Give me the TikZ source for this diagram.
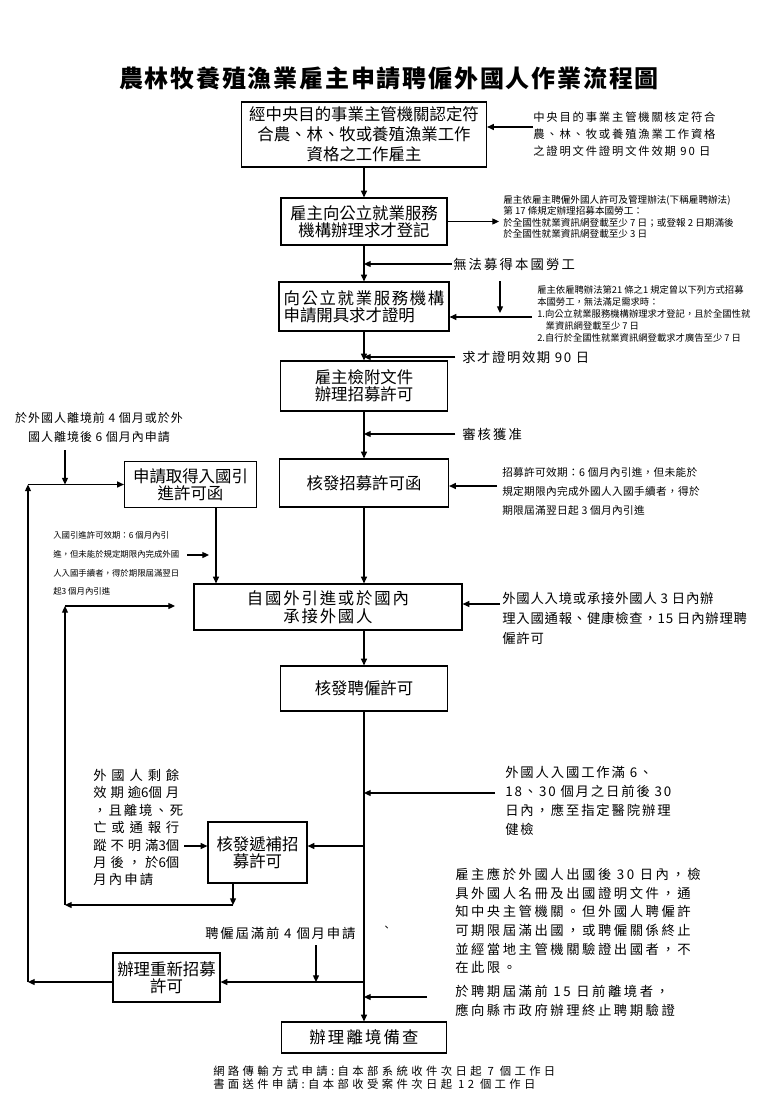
\documentclass[tikz,border=0pt]{standalone}
\usepackage{fontspec}
\setmainfont{Noto Sans CJK TC}
\usetikzlibrary{arrows.meta,calc}
\newcommand{\myfs}[3]{\fontsize{#1pt}{#2pt}\selectfont\addfontfeature{LetterSpace=#3}}
\begin{document}
\begin{tikzpicture}[x=0.75pt,y=-0.75pt,
  box/.style={draw, line width=0.9pt, inner sep=0pt, align=center, font=\myfs{12.3}{13}{0}},
  arr/.style={line width=0.9pt, -{Triangle[length=5pt,width=4.5pt]}},
  ln/.style={line width=0.9pt},
  note/.style={inner sep=0pt, anchor=west, align=left}]
\useasboundingbox[fill=white] (0,0) rectangle (768,1106);

% title
\node[inner sep=0pt, font=\bfseries\myfs{18}{20}{7.5}] (title) at (389,78) {農林牧養殖漁業雇主申請聘僱外國人作業流程圖};

% boxes
\node[box, minimum width=183.75pt, minimum height=48.75pt, font=\myfs{12.3}{15}{0}] (b1) at (364,134.5) {經中央目的事業主管機關認定符\\合農、林、牧或養殖漁業工作\\資格之工作雇主};
\node[box, minimum width=124.5pt, minimum height=35.25pt] (b2) at (364,221.5) {雇主向公立就業服務\\機構辦理求才登記};
\node[box, minimum width=127.5pt, minimum height=36.75pt, align=left] (b3) at (364,306.5) {{\addfontfeature{LetterSpace=10}向公立就業服務機構}\\申請開具求才證明};
\node[box, minimum width=125.25pt, minimum height=37.5pt] (b4) at (364,386) {雇主檢附文件\\辦理招募許可};
\node[box, minimum width=126.75pt, minimum height=36pt] (b5) at (364,483) {核發招募許可函};
\node[box, minimum width=99pt, minimum height=34.5pt] (bL1) at (190.5,484.5) {申請取得入國引\\進許可函};
\node[box, minimum width=201pt, minimum height=34.5pt, font=\myfs{12.3}{13.5}{11}] (b6) at (328,607) {自國外引進或於國內\\承接外國人};
\node[box, minimum width=125.25pt, minimum height=33.75pt] (b7) at (364,688.5) {核發聘僱許可};
\node[box, minimum width=74.25pt, minimum height=45.75pt] (b8) at (257.5,852.5) {核發遞補招\\募許可};
\node[box, minimum width=80.25pt, minimum height=36.75pt] (b10) at (166.5,977.5) {辦理重新招募\\許可};
\node[box, minimum width=123.75pt, minimum height=23.25pt, font=\myfs{12.3}{13}{13}] (b9) at (364,1037.5) {辦理離境備查};

% notes and labels
\node[note, font=\myfs{8.5}{12.75}{16}] (n1) at (533,134) {中央目的事業主管機關核定符合\\農、林、牧或養殖漁業工作資格\\之證明文件證明文件效期 90 日};
\node[note, font=\myfs{7.2}{8.6}{0}] (n2) at (503,217) {雇主依雇主聘僱外國人許可及管理辦法(下稱雇聘辦法)\\第 17 條規定辦理招募本國勞工：\\於全國性就業資訊網登載至少 7 日；或登報 2 日期滿後\\於全國性就業資訊網登載至少 3 日};
\node[note, font=\myfs{10}{12}{16}] (l1) at (453,264) {無法募得本國勞工};
\node[note, font=\myfs{7}{9}{0}] (n3) at (537,314) {雇主依雇聘辦法第21 條之1 規定曾以下列方式招募\\本國勞工，無法滿足需求時：\\1.向公立就業服務機構辦理求才登記，且於全國性就\\\hspace{0.9em}業資訊網登載至少 7 日\\2.自行於全國性就業資訊網登載求才廣告至少 7 日};
\node[note, font=\myfs{10}{12}{12}] (l2) at (462,357) {求才證明效期 90 日};
\node[note, font=\myfs{10}{12}{16}] (l3) at (462,434) {審核獲准};
\node[note, font=\myfs{8}{14.25}{3}] (n5) at (502,491) {招募許可效期：6 個月內引進，但未能於\\規定期限內完成外國人入國手續者，得於\\期限屆滿翌日起 3 個月內引進};
\node[inner sep=0pt, align=center, font=\myfs{9}{14.25}{8}] (nL1) at (99,427.5) {於外國人離境前 4 個月或於外\\國人離境後 6 個月內申請};
\node[note, font=\myfs{6.3}{14}{0}] (nL2) at (53,563.5) {入國引進許可效期：6 個月內引\\進，但未能於規定期限內完成外國\\人入國手續者，得於期限屆滿翌日\\起3 個月內引進};
\node[note, font=\myfs{10}{15}{6}] (n6) at (502,618) {外國人入境或承接外國人 3 日內辦\\理入國通報、健康檢查，15 日內辦理聘\\僱許可};
\node[note, font=\myfs{10}{14.25}{14}] (n7) at (505,801) {外國人入國工作滿 6、\\18、30 個月之日前後 30\\日內，應至指定醫院辦理\\健檢};
\node[note, font=\myfs{10}{13.1}{0}] (n8) at (93,827.5) {\makebox[64.5pt][s]{外 國 人 剩 餘}\\\makebox[64.5pt][s]{效 期 逾6個 月}\\\makebox[64.5pt][s]{， 且 離 境 、 死}\\\makebox[64.5pt][s]{亡 或 通 報 行}\\\makebox[64.5pt][s]{蹤 不 明 滿3個}\\\makebox[64.5pt][s]{月 後 ， 於6個}\\\makebox[45pt][s]{月 內 申 請}};
\node[note, font=\myfs{10}{13.9}{19}] (n9) at (455,921) {雇主應於外國人出國後 30 日內，檢\\具外國人名冊及出國證明文件，通\\知中央主管機關。但外國人聘僱許\\可期限屆滿出國，或聘僱關係終止\\並經當地主管機關驗證出國者，不\\在此限。};
\node[inner sep=0pt, anchor=base west, font=\myfs{8}{10}{0}] (tick) at (381,931) {、};
\node[note, font=\myfs{10}{12}{14}] (l4) at (205,933) {聘僱屆滿前 4 個月申請};
\node[note, font=\myfs{10}{14.25}{19}] (n10) at (455,1001) {於聘期屆滿前 15 日前離境者，\\應向縣市政府辦理終止聘期驗證};
\node[note, font=\myfs{8.5}{9.75}{30}] (nF) at (213,1077.5) {網路傳輸方式申請:自本部系統收件次日起 7 個工作日\\書面送件申請:自本部收受案件次日起 12 個工作日};

% helper coordinates
\coordinate (a1) at (533,127);
\coordinate (d1) at (500,281);
\coordinate (a3) at (532,317);
\coordinate (a5) at (497,486);
\coordinate (dL) at (65,450);
\coordinate (xL) at (216,0);
\coordinate (aL2) at (187,555);
\coordinate (eL2) at (209,555);
\coordinate (a6) at (500,604);
\coordinate (c606) at (65,606);
\coordinate (e606) at (175,606);
\coordinate (c905) at (65,905);
\coordinate (x8) at (233,0);
\coordinate (a793) at (495,793);
\coordinate (a8) at (184,846);
\coordinate (j846) at (364,846);
\coordinate (d4) at (316,945);
\coordinate (r10) at (364,982);
\coordinate (lc) at (28,982);
\coordinate (a997) at (427,997);

% connectors
\draw[arr] (a1) -- (a1 -| b1.east);
\draw[arr] (b1.south) -- (b2.north);
\draw[arr] (b2.east) -- ([xshift=-3pt]n2.west |- b2.east);
\draw[arr] (b2.south) -- (b3.north);
\draw[arr] ([xshift=-1pt]l1.west) -- (l1.west -| b2.south);
\draw[arr] (d1) -- ([yshift=3pt]d1 |- a3);
\draw[arr] (a3) -- (a3 -| b3.east);
\draw[arr] (b3.south) -- (b4.north);
\draw[arr] ([xshift=-5pt]l2.west) -- (l2.west -| b3.south);
\draw[arr] (b4.south) -- (b5.north);
\draw[arr] ([xshift=-5pt]l3.west) -- (l3.west -| b4.south);
\draw[arr] (a5) -- (a5 -| b5.east);
\draw[arr] (b5.south) -- (b5.south |- b6.north);
\draw[arr] (dL) -- (dL |- bL1.west);
\draw[arr] (bL1.south -| xL) -- (b6.north -| xL);
\draw[arr] (aL2) -- (eL2);
\draw[arr] (a6) -- (a6 -| b6.east);
\draw[arr] (c606) -- (e606);
\draw[arr] (b6.south -| b7.north) -- (b7.north);
\draw[arr] (b7.south) -- (b9.north);
\draw[arr] (a793) -- (a793 -| b7.south);
\draw[arr] (j846) -- (j846 -| b8.east);
\draw[arr] (a8) -- (a8 -| b8.west);
\draw[arr] (b8.south -| x8) -- (x8 |- c905);
\draw[arr] (x8 |- c905) -- (c905);
\draw[arr] (c905) -- (c606);
\draw[arr] (d4) -- (d4 |- r10);
\draw[arr] (r10) -- (r10 -| b10.east);
\draw[arr] (b10.west |- lc) -- (lc);
\draw[arr] (lc) -- (lc |- bL1.west);
\draw[arr] (lc |- bL1.west) -- (bL1.west);
\draw[arr] (a997) -- (a997 -| b7.south);
\end{tikzpicture}
\end{document}
